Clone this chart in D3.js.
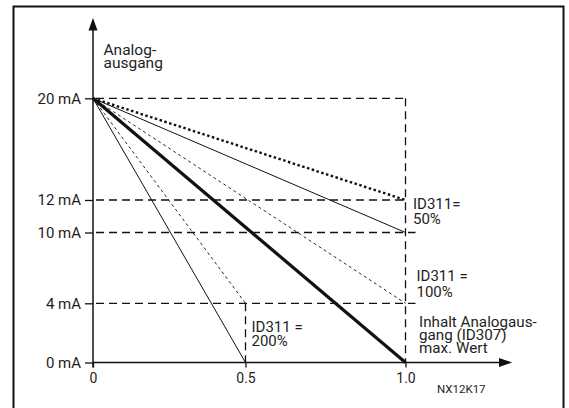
<!DOCTYPE html>
<html>
<head>
<meta charset="utf-8">
<script src="https://cdn.jsdelivr.net/npm/d3@7"></script>
<style>
  html, body { margin: 0; padding: 0; background: #fff; }
  svg { display: block; }
  text { font-family: Roboto, "DejaVu Sans", sans-serif; fill: #1e1e1e; }
</style>
</head>
<body>
<svg id="chart" width="569" height="408"></svg>
<script>
// Axis ticks
const yTicks = [0, 4, 10, 12, 20];
const yTickLabels = ["0 mA", "4 mA", "10 mA", "12 mA", "20 mA"];
const xTicks = [0, 0.5, 1.0];
const xTickLabels = ["0", "0.5", "1.0"];

// Output characteristics: every line starts at 20 mA for value 0
const lineNames = ["100 % / 0 mA", "50 % / 4 mA", "50 % / 0 mA", "100 % / 4 mA", "200 % / 4 mA", "200 % / 0 mA"];
const lineStartX = [0, 0, 0, 0, 0, 0];
const lineStartY = [20, 20, 20, 20, 20, 20];
const lineEndX = [1.0, 1.0, 1.0, 1.0, 0.5, 0.5];
const lineEndY = [0, 12, 10, 4, 4, 0];

// Dashed guide levels and their right end (in x units)
const guideLevels = [20, 12, 10, 4];
const guideEnds = [1.0, 1.0, 1.0, 1.0];
const guideVerticalX = [1.0, 0.5];
const guideVerticalTop = [20, 4];

const svg = d3.select("#chart");

// The diagram is schematic: tick spacing is not strictly proportional
const x = d3.scaleLinear().domain([0, 0.5, 1.0]).range([93, 245.5, 405.5]);
const y = d3.scaleLinear().domain([0, 4, 10, 12, 20]).range([362.5, 303.3, 232.5, 200, 98.3]);

// Frame
svg.append("rect")
  .attr("x", 13.5).attr("y", 6.5)
  .attr("width", 550).attr("height", 420)
  .attr("fill", "none").attr("stroke", "#111").attr("stroke-width", 2);

// Guides
const guides = svg.append("g")
  .attr("stroke", "#111").attr("stroke-width", 1.3)
  .attr("stroke-dasharray", "8,5").attr("fill", "none");
guideLevels.forEach((lv, i) => {
  const extra = lv < 12 ? 10 : 0;
  guides.append("line")
    .attr("x1", x(0) + 3).attr("x2", x(guideEnds[i]) + extra)
    .attr("y1", y(lv)).attr("y2", y(lv));
});
guideVerticalX.forEach((gx, i) => {
  guides.append("line")
    .attr("x1", x(gx)).attr("x2", x(gx))
    .attr("y1", y(guideVerticalTop[i])).attr("y2", y(0));
});

// Characteristic lines
const lineStyles = [
  { w: 3.2, dash: null },
  { w: 2.4, dash: "2.5,2.5" },
  { w: 1, dash: null },
  { w: 0.9, dash: "3,3" },
  { w: 0.9, dash: "3,3" },
  { w: 1, dash: null }
];
const lineGen = d3.line().x(d => x(d[0])).y(d => y(d[1]));
lineNames.forEach((name, i) => {
  const st = lineStyles[i];
  svg.append("path")
    .datum([[lineStartX[i], lineStartY[i]], [lineEndX[i], lineEndY[i]]])
    .attr("class", "characteristic")
    .attr("data-name", name)
    .attr("d", lineGen)
    .attr("fill", "none")
    .attr("stroke", "#111")
    .attr("stroke-width", st.w)
    .attr("stroke-dasharray", st.dash);
});

// Axes (ticks and labels through d3-axis, the axis lines drawn with arrows)
const yAxis = d3.axisLeft(y).tickValues(yTicks)
  .tickFormat((d, i) => yTickLabels[i]).tickSize(8).tickPadding(4);
const gy = svg.append("g").attr("transform", `translate(${x(0)},0)`).call(yAxis);
gy.select(".domain").remove();
gy.selectAll(".tick line").attr("stroke", "#111").attr("stroke-width", 1.3);
gy.selectAll(".tick text").attr("font-size", 15).attr("fill", "#1e1e1e")
  .attr("font-family", "Roboto, sans-serif");

const xAxis = d3.axisBottom(x).tickValues(xTicks)
  .tickFormat((d, i) => xTickLabels[i]).tickSize(5).tickPadding(6);
const gx = svg.append("g").attr("transform", `translate(0,${y(0)})`).call(xAxis);
gx.select(".domain").remove();
gx.selectAll(".tick line").attr("stroke", "#111").attr("stroke-width", 1.3);
gx.selectAll(".tick text").attr("font-size", 14).attr("fill", "#1e1e1e")
  .attr("font-family", "Roboto, sans-serif");

// Axis lines with arrowheads
svg.append("line").attr("x1", x(0)).attr("x2", x(0))
  .attr("y1", y(0) + 5).attr("y2", 28)
  .attr("stroke", "#111").attr("stroke-width", 1.5);
svg.append("path")
  .attr("d", `M${x(0)},18 L${x(0) - 4.5},30.5 L${x(0) + 4.5},30.5 Z`)
  .attr("fill", "#111");
svg.append("line").attr("x1", x(0)).attr("x2", 502)
  .attr("y1", y(0)).attr("y2", y(0))
  .attr("stroke", "#111").attr("stroke-width", 1.5);
svg.append("path")
  .attr("d", `M512,${y(0)} L499,${y(0) - 4.5} L499,${y(0) + 4.5} Z`)
  .attr("fill", "#111");

// Text annotations
function block(lines, tx, ty, lead, size) {
  const t = svg.append("text").attr("x", tx).attr("y", ty).attr("font-size", size);
  lines.forEach((s, i) => {
    t.append("tspan").attr("x", tx).attr("y", ty + i * lead).text(s);
  });
}
block(["Analog-", "ausgang"], 103.5, 54.5, 13, 15.5);
block(["ID311=", "50%"], x(1.0) + 7.5, y(12) + 8.5, 15.5, 15);
block(["ID311 =", "100%"], x(1.0) + 11, y(4) - 22, 15.5, 15);
block(["ID311 =", "200%"], x(0.5) + 6, y(0) - 30.5, 13.5, 15);
block(["Inhalt Analogaus-", "gang (ID307)", "max. Wert"], 419, 327, 13, 15.2);
block(["NX12K17"], 437, 393, 0, 11.5);
</script>
</body>
</html>
